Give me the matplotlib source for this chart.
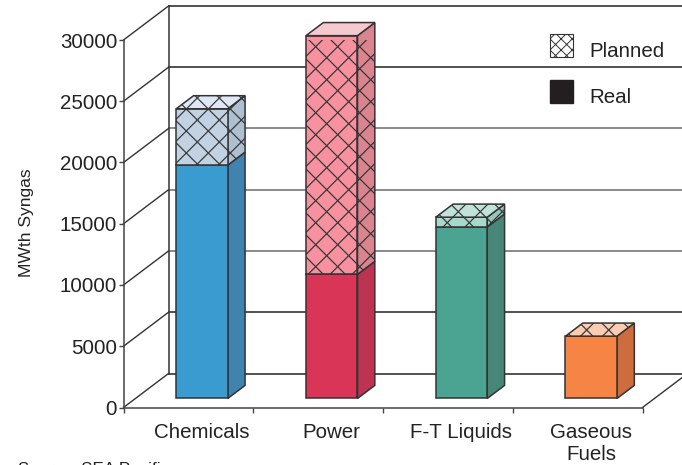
import matplotlib
matplotlib.use("Agg")
import matplotlib.pyplot as plt
from matplotlib.patches import Polygon, Patch
import numpy as np

plt.rcParams['font.family'] = ['Liberation Sans', 'DejaVu Sans']
plt.rcParams['hatch.linewidth'] = 0.7

categories = ['Chemicals', 'Power', 'F-T Liquids', 'Gaseous\nFuels']
real = [19050, 10130, 14000, 5090]
planned = [4600, 19490, 800, 0]
y_ticks = [0, 5000, 10000, 15000, 20000, 25000, 30000]

colors_real = ['#3A9BD0', '#D93557', '#4BA391', '#F68445']
colors_real_side = ['#3F83AE', '#BC3452', '#47877A', '#CE6C3E']
colors_plan = ['#C2D2E3', '#F7919F', '#A6D8CC', '#FBCBB2']
colors_plan_side = ['#AEBFD0', '#D9848F', '#97C6BB', '#E0B49C']
colors_plan_top = ['#E0E7F4', '#F6C9CE', '#C0E2D9', '#FBCBB2']
grid_colors = ['#333333', '#333333', '#777777', '#777777', '#777777', '#333333', '#333333']

W, H = 682, 465
LEFT, RIGHT, BOTTOM, TOP = 123.5, 642.5, 407.5, 40
PX_X = 4 / (RIGHT - LEFT)
PX_Y = 30000 / (BOTTOM - TOP)

# depth of the back wall
DX, DY = 45 * PX_X, 34 * PX_Y
BAR_NEAR, BAR_FAR = 0.265, 0.65
BAR_W = 51.5 * PX_X
BAR_POS = np.array([0.5, 1.5, 2.5, 3.5]) + 0.105
HATCH_P = 22
# where the hatch lines fall for each bar, x+y and x-y in pixels, modulo HATCH_P
HATCH_PHASE = [(9.3, 11.3), (10.4, 5.0), (10.0, 4.6), (14.7, 14.7)]
LINE = '#333333'

fig = plt.figure(figsize=(W / 100, H / 100), dpi=100)
ax = fig.add_axes([LEFT / W, 1 - BOTTOM / H, (RIGHT - LEFT) / W, (BOTTOM - TOP) / H])
ax.set_xlim(0, 4)
ax.set_ylim(0, 30000)
ax.patch.set_alpha(0)


def face(pts, color, zorder):
    ax.add_patch(Polygon(pts, closed=True, fc=color, ec=LINE, lw=1.1, zorder=zorder, clip_on=False))


def hatch_face(pts, phase, zorder):
    # crossed 45 degree lines on screen, clipped to one face of a bar
    clip = Polygon(pts, closed=True, transform=ax.transData, fc='none', ec='none')
    ax.add_patch(clip)
    px = np.array([0.0, W])
    for k in range(-30, 60):
        for py in (phase[0] + k * HATCH_P - px, px - phase[1] - k * HATCH_P):
            ln, = ax.plot((px - LEFT) * PX_X, (BOTTOM - py) * PX_Y, color=LINE, lw=0.85, zorder=zorder)
            ln.set_clip_path(clip)


# walls and grid
for t, c in zip(y_ticks, grid_colors):
    ax.plot([0, DX], [t, t + DY], color='#333333', lw=1.0, zorder=1, clip_on=False)
    ax.plot([DX, 4 + DX], [t + DY, t + DY], color=c, lw=1.2, zorder=1, clip_on=False)
ax.plot([DX, DX], [DY, 30000 + DY], color='#333333', lw=1.1, zorder=1, clip_on=False)
ax.plot([4, 4 + DX], [0, DY], color='#333333', lw=1.0, zorder=1, clip_on=False)

# bars
for i in range(len(categories)):
    x0 = BAR_POS[i] - BAR_W / 2
    x1 = x0 + BAR_W
    y0 = BAR_NEAR * DY
    y1 = y0 + real[i]
    y2 = y1 + planned[i]
    dx = (BAR_FAR - BAR_NEAR) * DX
    dy = (BAR_FAR - BAR_NEAR) * DY
    z = 3 + i

    face([(x1, y0), (x1 + dx, y0 + dy), (x1 + dx, y1 + dy), (x1, y1)], colors_real_side[i], z)
    face([(x0, y0), (x1, y0), (x1, y1), (x0, y1)], colors_real[i], z)
    if planned[i] > 0:
        side = [(x1, y1), (x1 + dx, y1 + dy), (x1 + dx, y2 + dy), (x1, y2)]
        front = [(x0, y1), (x1, y1), (x1, y2), (x0, y2)]
        face(side, colors_plan_side[i], z)
        face(front, colors_plan[i], z)
        hatch_face(side, HATCH_PHASE[i], z + 0.1)
        hatch_face(front, HATCH_PHASE[i], z + 0.1)
    top = [(x0, y2), (x1, y2), (x1 + dx, y2 + dy), (x0 + dx, y2 + dy)]
    face(top, colors_plan_top[i], z)
    hatch_face(top, HATCH_PHASE[i], z + 0.1)

# axes, ticks
for side_name in ('top', 'right'):
    ax.spines[side_name].set_visible(False)
for side_name in ('left', 'bottom'):
    ax.spines[side_name].set_color('#444444')
    ax.spines[side_name].set_linewidth(1.1)
    ax.spines[side_name].set_zorder(2)

ax.set_yticks(y_ticks)
ax.tick_params(axis='y', length=3.6, width=1, color='#444444', labelsize=14.8, labelcolor='#222222', pad=1)
ax.set_xticks([0, 1, 2, 3, 4])
ax.set_xticklabels([])
ax.tick_params(axis='x', which='major', length=3.6, width=1, color='#444444')
ax.set_xticks(BAR_POS, minor=True)
ax.set_xticklabels(categories, minor=True, fontsize=14.8, color='#222222', linespacing=1.22)
ax.tick_params(axis='x', which='minor', length=0, pad=11)

ax.set_ylabel('MWth Syngas', fontsize=12.6, color='#222222')
ax.yaxis.set_label_coords(-90 / (RIGHT - LEFT), 0.503)

handles = [Patch(fc='white', ec='#333333', lw=0.8, hatch='xxx'), Patch(fc='#231F20', ec='#231F20')]
leg = ax.legend(handles, ['Planned', 'Real'], loc='upper left',
                bbox_to_anchor=((550 - LEFT) / (RIGHT - LEFT), 1.016), frameon=False,
                fontsize=14.8, handlelength=1.12, handleheight=1.345, handletextpad=0.8,
                labelspacing=1.12, borderpad=0, borderaxespad=0, labelcolor='#222222')
leg.get_texts()[0].set_y(-5)
leg.get_texts()[1].set_y(-4)

fig.text(18 / W, 1 - 462 / H, 'Source: SEA Pacific', fontsize=12.2, color='#222222', va='top')

fig.savefig('out.png', dpi=100)
